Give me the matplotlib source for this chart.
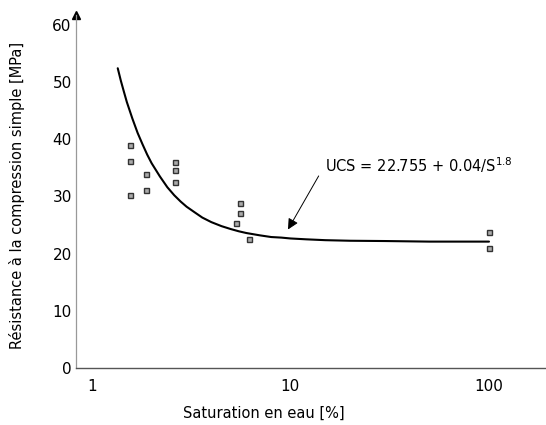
import matplotlib
matplotlib.use('Agg')
import matplotlib.pyplot as plt

# -------- Données -------- #
saturation = [1.55, 1.55, 1.55, 1.87, 1.87, 2.62, 2.62, 2.62, 5.3, 5.6, 5.6, 6.2, 100, 100]
ucs = [38.9, 36.2, 30.2, 33.9, 31.2, 36.1, 34.7, 32.5, 25.3, 28.9, 27.1, 22.6, 23.7, 20.9]

# courbe de régression
curve_s = [1.35, 1.4, 1.45, 1.5, 1.6, 1.7, 1.8, 1.9, 2.0, 2.2, 2.4, 2.6, 2.8, 3.0,
           3.3, 3.6, 4.0, 4.5, 5.0, 5.5, 6.0, 7.0, 8.0, 9.0, 10, 12, 15, 20, 30, 50, 100]
curve_ucs = [52.4, 50.2, 48.3, 46.5, 43.6, 41.1, 39.1, 37.3, 35.8, 33.5, 31.6, 30.2, 29.1, 28.2,
             27.2, 26.3, 25.5, 24.8, 24.3, 23.9, 23.6, 23.2, 22.9, 22.8, 22.65, 22.5, 22.35, 22.25,
             22.2, 22.1, 22.1]

xticks = [1, 10, 100]
yticks = [0, 10, 20, 30, 40, 50, 60]

plt.rcParams['font.family'] = ['DejaVu Sans']

# -------- Figure -------- #
fig = plt.figure(figsize=(5.46, 4.25), dpi=100)
ax = fig.add_axes([0.139, 0.134, 0.861, 0.8306])

ax.plot(curve_s, curve_ucs, color='black', lw=1.5, solid_capstyle='round', solid_joinstyle='round')
ax.plot(saturation, ucs, 's', ms=3.6, mfc='#aaaaaa', mec='#333333', mew=1.0, ls='none')

ax.set_xscale('log')
ax.set_xlim(0.831, 193.7)
ax.set_ylim(0, 61.7)
ax.set_xticks(xticks)
ax.set_xticklabels([str(t) for t in xticks])
ax.minorticks_off()
ax.set_yticks(yticks)
ax.tick_params(length=0, labelsize=11)
ax.tick_params(axis='x', pad=8)
ax.tick_params(axis='y', pad=3)

for side in ['top', 'right']:
    ax.spines[side].set_visible(False)
ax.spines['left'].set_color('#999999')
ax.spines['left'].set_linewidth(0.9)
ax.spines['bottom'].set_color('#555555')
ax.spines['bottom'].set_linewidth(1.0)

# flèche en haut de l'axe y
ax.plot(0, 1, '^', color='black', ms=6, transform=ax.transAxes, clip_on=False)

ax.set_xlabel('Saturation en eau [%]', fontsize=10.5)
ax.xaxis.set_label_coords(0.40, -0.108)
ax.set_ylabel('Résistance à la compression simple [MPa]', fontsize=10.5)
ax.yaxis.set_label_coords(-0.1085, 0.49)

# -------- Équation -------- #
ax.text(14.9, 35.5, 'UCS = 22.755 + 0.04/S$^{1.8}$', fontsize=10.5, va='center', ha='left')
ax.annotate('', xy=(9.57, 23.8), xytext=(14.1, 34.0),
            arrowprops=dict(arrowstyle='-|>', color='black', lw=0.7, mutation_scale=16))

fig.savefig('out.png', dpi=100)
